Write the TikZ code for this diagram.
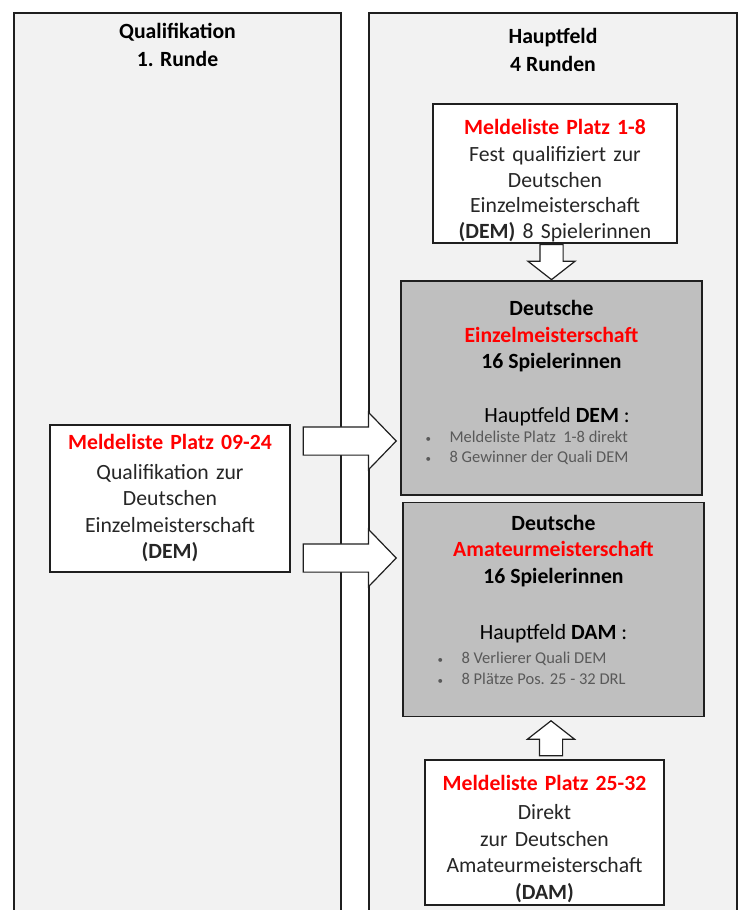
\documentclass[tikz,border=0pt]{standalone}
\usepackage{fontspec}
\setmainfont{Carlito}
\usetikzlibrary{positioning,calc,shapes.arrows}

\definecolor{spaltengrau}{HTML}{F2F2F2}
\definecolor{kastengrau}{HTML}{BFBFBF}
\definecolor{listengrau}{HTML}{595959}
\definecolor{textgrau}{HTML}{262626}
\definecolor{rahmen}{HTML}{1F1F1F}
\definecolor{titelrot}{HTML}{FF0000}

\newcommand{\grundschrift}{\fontsize{21.7}{26.5}\selectfont}
\newcommand{\rot}[1]{\textcolor{titelrot}{\textbf{#1}}}
\newcommand{\punkt}{\makebox[24pt][l]{\fontsize{11}{11}\selectfont\textbullet}}

\tikzset{
	spalte/.style={draw=rahmen, line width=1.2pt, fill=spaltengrau},
	spaltentitel/.style={font=\fontsize{21.7}{28}\selectfont\bfseries, align=center, text=black},
	weiss/.style={draw=rahmen, line width=1.2pt, fill=white, inner sep=0pt, align=center, font=\grundschrift, text=textgrau},
	grau/.style={draw=rahmen, line width=1.2pt, fill=kastengrau, inner sep=0pt, minimum width=301pt, minimum height=214pt},
	kastentext/.style={inner sep=0pt, align=center, font=\grundschrift, text=black},
	liste/.style={inner sep=0pt, align=left, font=\fontsize{16.5}{20.5}\selectfont, text=listengrau},
	pfeilquer/.style={single arrow, draw=rahmen, line width=1.2pt, fill=white, inner sep=0pt, text height=13.5pt, text depth=13.5pt, minimum height=93pt, single arrow head extend=14.5pt, single arrow tip angle=92},
	pfeilsenk/.style={single arrow, draw=rahmen, line width=1.2pt, fill=white, inner sep=0pt, text height=11pt, text depth=11pt, minimum height=35pt, single arrow head extend=12pt, single arrow tip angle=104}
}

\begin{document}
\begin{tikzpicture}[x=1pt,y=-1pt]
	\useasboundingbox (0,0) rectangle (740,910);

	% Spalten
	\draw[spalte] (14,13) rectangle (341,930);
	\draw[spalte] (369,13) rectangle (737,930);
	\node[spaltentitel, anchor=north] (titelquali) at (177.5,20) {Qualifikation\\1. Runde};
	\node[spaltentitel, anchor=north] (titelhaupt) at (553,25) {Hauptfeld\\4 Runden};

	% Meldelisten
	\node[weiss, minimum width=244pt, minimum height=139pt, text width=228pt] (fest) at (555,173.5) {\fontsize{21.7}{25.3}\selectfont\rule{0pt}{30pt}\rot{Meldeliste Platz 1-8}\\[2pt]Fest qualifiziert zur\\Deutschen\\Einzelmeisterschaft\\\textbf{(DEM)} 8 Spielerinnen};
	\node[weiss, minimum width=240pt, minimum height=147pt, text width=224pt] (quali) at (170,498.5) {\rot{Meldeliste Platz 09-24}\\[3pt]Qualifikation zur\\Deutschen\\Einzelmeisterschaft\\\textbf{(DEM)}};
	\node[weiss, minimum width=239pt, minimum height=145pt, text width=223pt] (direkt) at (544.5,832.5) {\rule{0pt}{28pt}\rot{Meldeliste Platz 25-32}\\[3pt]Direkt\\zur Deutschen\\Amateurmeisterschaft\\\textbf{(DAM)}};

	% Hauptfelder
	\node[grau] (dem) at (551.5,388) {};
	\node[kastentext, below=20pt of dem.north] (demtext) {\textbf{Deutsche}\\\rot{Einzelmeisterschaft}\\\textbf{16 Spielerinnen}\\[27pt]\hspace*{11pt}Hauptfeld \textbf{DEM} :};
	\node[liste, anchor=north west] (demliste) at ($(dem.north west)+(25,150)$) {\punkt Meldeliste Platz\ \ 1-8 direkt\\\punkt 8 Gewinner der Quali DEM};

	\node[grau] (dam) at (553.5,609.5) {};
	\node[kastentext, below=13pt of dam.north] (damtext) {\fontsize{21.7}{27}\selectfont\textbf{Deutsche}\\\rot{Amateurmeisterschaft}\\\textbf{16 Spielerinnen}\\[30pt]Hauptfeld \textbf{DAM} :};
	\node[liste, anchor=north west] (damliste) at ($(dam.north west)+(35,150)$) {\punkt 8 Verlierer Quali DEM\\\punkt 8 Plätze Pos. 25 - 32 DRL};

	% Pfeile
	\node[pfeilquer, anchor=tail] (pfeildem) at ($(quali.east)+(12,-57.5)$) {};
	\node[pfeilquer, anchor=tail] (pfeildam) at ($(quali.east)+(12,59.5)$) {};
	\node[pfeilsenk, rotate=-90, anchor=tip] (pfeilfest) at (dem.north) {};
	\node[pfeilsenk, rotate=90, anchor=tail] (pfeildirekt) at ($(direkt.north)+(6.5,-3)$) {};

\end{tikzpicture}
\end{document}
